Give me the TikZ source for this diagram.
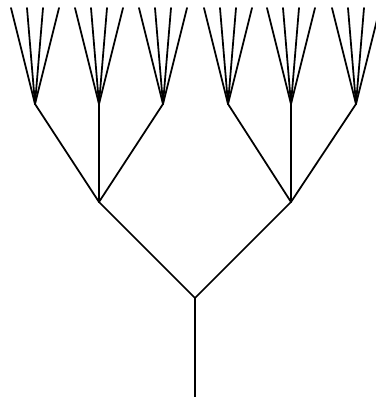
\documentclass[tikz,border=0pt]{standalone}
\usepackage{tikz}
\usetikzlibrary{calc}
\begin{document}
\begin{tikzpicture}[x=0.02cm, y=0.02cm, branch/.style={line width=1pt, line cap=round}]
  \useasboundingbox (0,0) rectangle (376,397);

  % Trunk and first split
  \coordinate (base) at (195,0);
  \coordinate (root) at (195,99);
  \coordinate (L) at (99,195);
  \coordinate (R) at (291,195);
  \draw[branch] (base) -- (root);
  \draw[branch] (root) -- (L);
  \draw[branch] (root) -- (R);

  % Second split, each ending in a fan of four twigs
  \foreach \name/\x/\parent in {a/35/L, b/99/L, c/163/L, d/228/R, e/291/R, f/356/R} {
    \coordinate (\name) at (\x,293);
    \draw[branch] (\parent) -- (\name);
    \foreach \dx [count=\i] in {-24,-8,8,24} {
      \coordinate (\name\i) at ($(\name)+(\dx,96)$);
      \draw[branch] (\name) -- (\name\i);
    }
  }
\end{tikzpicture}
\end{document}
